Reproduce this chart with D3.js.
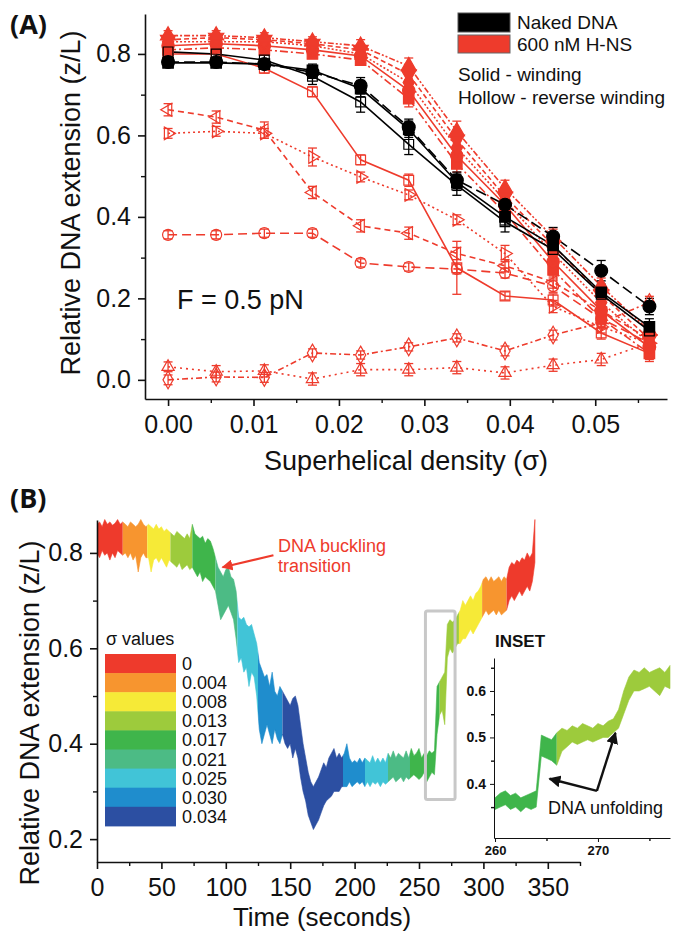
<!DOCTYPE html>
<html>
<head>
<meta charset="utf-8">
<script src="https://cdn.jsdelivr.net/npm/d3@7"></script>
<style>
  body { margin: 0; background: #fff; }
  svg text { font-family: "Liberation Sans", Arial, sans-serif; }
</style>
</head>
<body>
<svg id="fig" width="678" height="933"></svg>
<script>
// ---------- panel A data ----------
var sigmaA = [0, 0.00563, 0.01127, 0.0169, 0.02254, 0.02817, 0.0338, 0.03944, 0.04507, 0.0507, 0.05634];

var nakedWindCircle    = [0.78, 0.78, 0.775, 0.755, 0.722, 0.62, 0.49, 0.43, 0.352, 0.268, 0.18];
var nakedWindCircleErr = [0.012, 0.01, 0.012, 0.015, 0.02, 0.02, 0.02, 0.025, 0.022, 0.025, 0.02];
var nakedWindSquare    = [0.778, 0.778, 0.775, 0.76, 0.715, 0.615, 0.485, 0.40, 0.33, 0.215, 0.13];
var nakedWindSquareErr = [0.01, 0.01, 0.01, 0.015, 0.02, 0.02, 0.02, 0.02, 0.02, 0.02, 0.02];
var nakedRevSquare     = [0.805, 0.80, 0.785, 0.745, 0.682, 0.578, 0.478, 0.388, 0.32, 0.21, 0.12];
var nakedRevSquareErr  = [0.01, 0.01, 0.012, 0.02, 0.025, 0.025, 0.025, 0.025, 0.02, 0.02, 0.02];

var hnsUpTri       = [0.845, 0.845, 0.84, 0.83, 0.82, 0.77, 0.61, 0.47, 0.35, 0.23, 0.12];
var hnsUpTriErr    = [0.012, 0.012, 0.012, 0.012, 0.015, 0.02, 0.025, 0.02, 0.02, 0.02, 0.02];
var hnsDownTri     = [0.835, 0.84, 0.835, 0.825, 0.81, 0.75, 0.59, 0.45, 0.33, 0.21, 0.10];
var hnsDownTriErr  = [0.01, 0.01, 0.01, 0.012, 0.012, 0.02, 0.02, 0.02, 0.02, 0.02, 0.02];
var hnsDiamond     = [0.83, 0.83, 0.83, 0.82, 0.80, 0.73, 0.57, 0.44, 0.31, 0.19, 0.09];
var hnsDiamondErr  = [0.01, 0.01, 0.01, 0.01, 0.012, 0.02, 0.02, 0.02, 0.02, 0.02, 0.02];
var hnsCircle      = [0.82, 0.825, 0.82, 0.81, 0.795, 0.71, 0.55, 0.43, 0.29, 0.17, 0.08];
var hnsCircleErr   = [0.01, 0.01, 0.01, 0.01, 0.012, 0.02, 0.02, 0.02, 0.02, 0.02, 0.02];
var hnsSquare      = [0.81, 0.815, 0.81, 0.80, 0.785, 0.69, 0.53, 0.41, 0.27, 0.15, 0.065];
var hnsSquareErr   = [0.01, 0.01, 0.01, 0.01, 0.012, 0.02, 0.02, 0.02, 0.02, 0.02, 0.02];

var hnsRevSquare      = [0.80, 0.80, 0.765, 0.707, 0.54, 0.49, 0.275, 0.206, 0.196, 0.115, 0.065];
var hnsRevSquareErr   = [0.01, 0.01, 0.012, 0.012, 0.012, 0.015, 0.065, 0.01, 0.015, 0.015, 0.015];
var hnsRevLeftTri     = [0.663, 0.645, 0.613, 0.46, 0.378, 0.36, 0.31, 0.28, 0.24, 0.17, 0.10];
var hnsRevLeftTriErr  = [0.015, 0.015, 0.02, 0.015, 0.015, 0.015, 0.015, 0.015, 0.015, 0.015, 0.015];
var hnsRevRightTri    = [0.605, 0.61, 0.605, 0.547, 0.498, 0.454, 0.393, 0.31, 0.18, 0.13, 0.09];
var hnsRevRightTriErr = [0.012, 0.012, 0.012, 0.022, 0.012, 0.012, 0.012, 0.02, 0.015, 0.015, 0.015];
var hnsRevCircle      = [0.356, 0.356, 0.36, 0.36, 0.287, 0.277, 0.272, 0.262, 0.23, 0.15, 0.09];
var hnsRevCircleErr   = [0.01, 0.01, 0.01, 0.01, 0.01, 0.01, 0.012, 0.012, 0.015, 0.015, 0.015];
var hnsRevDiamond     = [0.0, 0.007, 0.006, 0.066, 0.061, 0.081, 0.103, 0.071, 0.11, 0.14, 0.19];
var hnsRevDiamondErr  = [0.012, 0.012, 0.012, 0.01, 0.01, 0.01, 0.01, 0.012, 0.012, 0.012, 0.015];
var hnsRevUpTri       = [0.032, 0.02, 0.022, 0.002, 0.025, 0.025, 0.03, 0.017, 0.036, 0.05, 0.09];
var hnsRevUpTriErr    = [0.012, 0.015, 0.015, 0.015, 0.015, 0.015, 0.015, 0.015, 0.015, 0.015, 0.015];

var xTicksA = [0, 0.01, 0.02, 0.03, 0.04, 0.05];
var yTicksA = [0, 0.2, 0.4, 0.6, 0.8];

// ---------- panel B data ----------
var sigmaLabels = ["0", "0.004", "0.008", "0.013", "0.017", "0.021", "0.025", "0.030", "0.034"];
var sigmaColors = ["#ee3a2c", "#f7952f", "#f6ea37", "#9dcb3c", "#3fb54b", "#4cbb85", "#41c4d7", "#1f8dcd", "#2c4fa2"];

// time-trace envelope, one sample every 2 s from 0 to 340 s
var traceTime = d3.range(0, 341, 2);
var traceHi = [
  .86,.865,.855,.87,.86,.865,.858,.862,.87,.86,
  .865,.86,.855,.865,.86,.855,.86,.87,.86,.855,
  .86,.855,.85,.86,.85,.855,.845,.85,.845,.84,
  .835,.845,.84,.835,.83,.84,.83,.86,.84,.835,
  .83,.835,.82,.83,.825,.81,.79,.77,.76,.75,
  .765,.77,.75,.745,.72,.665,.66,.665,.65,.645,
  .65,.63,.61,.57,.555,.54,.545,.52,.55,.51,
  .50,.52,.51,.50,.49,.48,.495,.50,.48,.44,
  .40,.37,.34,.32,.31,.32,.33,.345,.36,.35,
  .37,.38,.39,.37,.38,.37,.38,.40,.37,.36,
  .365,.36,.37,.36,.37,.365,.36,.375,.36,.37,
  .36,.37,.36,.38,.37,.385,.37,.38,.375,.37,
  .385,.37,.39,.375,.38,.39,.37,.38,.375,.385,
  .38,.385,.52,.53,.54,.55,.65,.66,.655,.66,
  .67,.68,.70,.69,.70,.71,.70,.715,.72,.73,
  .745,.75,.74,.75,.74,.745,.75,.74,.75,.745,
  .77,.78,.775,.785,.78,.79,.785,.80,.79,.80,
  .87];
var traceLo = [
  .80,.79,.805,.795,.80,.785,.80,.79,.805,.80,
  .795,.80,.79,.80,.785,.795,.76,.79,.80,.79,
  .79,.76,.785,.79,.78,.79,.78,.77,.785,.78,
  .775,.77,.78,.765,.77,.775,.765,.77,.76,.75,
  .76,.74,.75,.745,.74,.73,.72,.69,.66,.67,
  .68,.69,.675,.66,.62,.57,.58,.55,.56,.52,
  .55,.54,.50,.43,.40,.42,.44,.42,.40,.43,
  .41,.40,.42,.40,.39,.40,.37,.39,.37,.33,
  .30,.28,.25,.235,.22,.23,.24,.255,.27,.28,
  .285,.29,.30,.30,.30,.31,.31,.31,.32,.31,
  .315,.32,.315,.32,.31,.32,.31,.32,.315,.32,
  .31,.32,.315,.32,.325,.33,.32,.325,.33,.32,
  .33,.325,.33,.335,.33,.325,.33,.34,.32,.33,
  .34,.335,.42,.46,.47,.44,.58,.60,.59,.60,
  .61,.61,.62,.62,.63,.64,.63,.64,.65,.66,
  .67,.68,.67,.675,.68,.67,.68,.67,.675,.68,
  .70,.71,.70,.71,.72,.71,.72,.73,.72,.74,
  .78];
// colour segments of the trace (seconds) and their sigma index
var segStart = [0, 20, 39, 57, 74, 92, 109, 125, 144, 191, 208, 226, 243, 266, 281, 299, 318];
var segEnd   = [20, 39, 57, 74, 92, 109, 125, 144, 191, 208, 226, 243, 266, 281, 299, 318, 342];
var segSigma = [0, 1, 2, 3, 4, 5, 6, 7, 8, 7, 6, 5, 4, 3, 2, 1, 0];

// inset envelope, one sample every 0.5 s from 260 to 277 s
var insetTime = d3.range(260, 277.01, 0.5);
var insetHi = [.37,.38,.385,.375,.38,.37,.375,.38,.385,.505,.50,.495,.51,.52,.515,.525,.52,.53,
  .525,.52,.53,.525,.535,.54,.56,.60,.63,.645,.64,.65,.64,.645,.65,.64,.655];
var insetLo = [.345,.35,.355,.345,.35,.34,.35,.345,.35,.46,.455,.45,.44,.47,.48,.49,.485,.49,
  .495,.49,.495,.50,.50,.51,.52,.55,.58,.60,.60,.605,.61,.60,.59,.61,.605];
var insetSegStart = [259.9, 266];
var insetSegEnd = [266, 277.1];
var insetSegColor = ["#3fb54b", "#9dcb3c"];

var xTicksB = [0, 50, 100, 150, 200, 250, 300, 350];
var yTicksB = [0.2, 0.4, 0.6, 0.8];

// ---------- drawing ----------
var red = "#ee3b2c";
var svg = d3.select("#fig");
var defs = svg.append("defs");

function styleAxis(g, fs, bold) {
  g.attr("font-family", null).attr("font-size", null);
  g.select(".domain").attr("stroke", "#111").attr("stroke-width", 1.6);
  g.selectAll(".tick line").attr("stroke", "#111").attr("stroke-width", 1.6);
  g.selectAll(".tick text").attr("fill", "#111")
    .style("font-size", fs + "px")
    .style("font-weight", bold ? "bold" : "normal");
}
function minorAxis(g) {
  g.select(".domain").remove();
  g.selectAll(".tick line").attr("stroke", "#111").attr("stroke-width", 1.4);
  g.selectAll(".tick text").remove();
}

// ===== Panel A =====
var xA = d3.scaleLinear().domain([-0.0027, 0.0584]).range([145, 667]);
var yA = d3.scaleLinear().domain([-0.047, 0.898]).range([399, 14]);

var gxA = svg.append("g").attr("transform", "translate(0,399)")
  .call(d3.axisBottom(xA).tickValues(xTicksA).tickFormat(d3.format(".2f")).tickSizeInner(7).tickSizeOuter(0).tickPadding(9));
styleAxis(gxA, 25);
minorAxis(svg.append("g").attr("transform", "translate(0,399)")
  .call(d3.axisBottom(xA).tickValues([0.005, 0.015, 0.025, 0.035, 0.045, 0.055]).tickSize(4)));
var gyA = svg.append("g").attr("transform", "translate(145,0)")
  .call(d3.axisLeft(yA).tickValues(yTicksA).tickFormat(d3.format(".1f")).tickSizeInner(7).tickSizeOuter(0).tickPadding(7));
styleAxis(gyA, 25);
minorAxis(svg.append("g").attr("transform", "translate(145,0)")
  .call(d3.axisLeft(yA).tickValues([0.1, 0.3, 0.5, 0.7]).tickSize(4)));

svg.append("text").attr("x", 406).attr("y", 470).attr("text-anchor", "middle")
  .style("font-size", "27px").attr("fill", "#111").text("Superhelical density (σ)");
svg.append("text").attr("transform", "translate(80,203) rotate(-90)").attr("text-anchor", "middle")
  .style("font-size", "27px").attr("fill", "#111").text("Relative DNA extension (z/L)");

var seriesA = [
  { v: hnsRevUpTri,     e: hnsRevUpTriErr,     c: red, sym: d3.symbolTriangle, rot: 0,   size: 65,  fill: false, dash: "2,4",  grp: 1 },
  { v: hnsRevDiamond,   e: hnsRevDiamondErr,   c: red, sym: d3.symbolDiamond,  rot: 0,   size: 90,  fill: false, dash: "6,3,2,3", grp: 1 },
  { v: hnsRevCircle,    e: hnsRevCircleErr,    c: red, sym: d3.symbolCircle,   rot: 0,   size: 95,  fill: false, dash: "9,5",  grp: 1 },
  { v: hnsRevRightTri,  e: hnsRevRightTriErr,  c: red, sym: d3.symbolTriangle, rot: 90,  size: 70,  fill: false, dash: "2,3",  grp: 1 },
  { v: hnsRevLeftTri,   e: hnsRevLeftTriErr,   c: red, sym: d3.symbolTriangle, rot: -90, size: 70,  fill: false, dash: "6,4",  grp: 1 },
  { v: hnsRevSquare,    e: hnsRevSquareErr,    c: red, sym: d3.symbolSquare,   rot: 0,   size: 95,  fill: false, dash: null,   grp: 1 },
  { v: hnsSquare,       e: hnsSquareErr,       c: red, sym: d3.symbolSquare,   rot: 0,   size: 110, fill: true,  dash: "8,3,2,3", grp: 2 },
  { v: hnsCircle,       e: hnsCircleErr,       c: red, sym: d3.symbolCircle,   rot: 0,   size: 120, fill: true,  dash: null,   grp: 2 },
  { v: hnsDiamond,      e: hnsDiamondErr,      c: red, sym: d3.symbolDiamond,  rot: 0,   size: 110, fill: true,  dash: "2,2",  grp: 2 },
  { v: hnsDownTri,      e: hnsDownTriErr,      c: red, sym: d3.symbolTriangle, rot: 180, size: 100, fill: true,  dash: "5,3",  grp: 2 },
  { v: hnsUpTri,        e: hnsUpTriErr,        c: red, sym: d3.symbolTriangle, rot: 0,   size: 100, fill: true,  dash: "6,2,2,2,2,2", grp: 2 },
  { v: nakedRevSquare,  e: nakedRevSquareErr,  c: "#000", sym: d3.symbolSquare, rot: 0,  size: 95,  fill: false, dash: null,   grp: 3 },
  { v: nakedWindSquare, e: nakedWindSquareErr, c: "#000", sym: d3.symbolSquare, rot: 0,  size: 110, fill: true,  dash: null,   grp: 3 },
  { v: nakedWindCircle, e: nakedWindCircleErr, c: "#000", sym: d3.symbolCircle, rot: 0,  size: 130, fill: true,  dash: "11,5", grp: 3 }
];
seriesA.forEach(function (s) {
  s.pts = sigmaA.map(function (x, i) { return { x: x, y: s.v[i], e: s.e[i] }; });
});

var lineA = d3.line().x(function (d) { return xA(d.x); }).y(function (d) { return yA(d.y); });
var gLines = svg.append("g"), gErr = svg.append("g"), gMk = svg.append("g");

seriesA.forEach(function (s) {
  gLines.append("path").datum(s.pts).attr("d", lineA)
    .attr("fill", "none").attr("stroke", s.c).attr("stroke-width", 1.6)
    .attr("stroke-dasharray", s.dash);
  var eb = gErr.append("g").attr("stroke", s.c).attr("stroke-width", 1.3)
    .selectAll("g").data(s.pts).enter().append("g");
  eb.append("line").attr("x1", function (d) { return xA(d.x); }).attr("x2", function (d) { return xA(d.x); })
    .attr("y1", function (d) { return yA(d.y - d.e); }).attr("y2", function (d) { return yA(d.y + d.e); });
  [-1, 1].forEach(function (sgn) {
    eb.append("line").attr("x1", function (d) { return xA(d.x) - 4.5; }).attr("x2", function (d) { return xA(d.x) + 4.5; })
      .attr("y1", function (d) { return yA(d.y + sgn * d.e); }).attr("y2", function (d) { return yA(d.y + sgn * d.e); });
  });
});
[1, 2, 3].forEach(function (grp) {
  seriesA.filter(function (s) { return s.grp === grp; }).forEach(function (s) {
    gMk.append("g").selectAll("path").data(s.pts).enter().append("path")
      .attr("transform", function (d) { return "translate(" + xA(d.x) + "," + yA(d.y) + ") rotate(" + s.rot + ")"; })
      .attr("d", d3.symbol().type(s.sym).size(s.size))
      .attr("fill", s.fill ? s.c : "none").attr("stroke", s.c).attr("stroke-width", 1.2);
  });
});

svg.append("text").attr("x", 177).attr("y", 309).style("font-size", "27px").attr("fill", "#111").text("F = 0.5 pN");

// legend A
svg.append("rect").attr("x", 458).attr("y", 13).attr("width", 52).attr("height", 19).attr("fill", "#000").attr("stroke", "#555");
svg.append("rect").attr("x", 458).attr("y", 35).attr("width", 52).attr("height", 18).attr("fill", red).attr("stroke", "#666");
svg.append("text").attr("x", 517).attr("y", 29).style("font-size", "19px").attr("fill", "#111").text("Naked DNA");
svg.append("text").attr("x", 517).attr("y", 51).style("font-size", "19px").attr("fill", "#111").text("600 nM H-NS");
svg.append("text").attr("x", 458).attr("y", 81).style("font-size", "19px").attr("fill", "#111").text("Solid - winding");
svg.append("text").attr("x", 458).attr("y", 104).style("font-size", "19px").attr("fill", "#111").text("Hollow - reverse winding");

svg.append("text").attr("x", 10).attr("y", 34).style("font-family", "'Open Sans', sans-serif")
  .style("font-size", "27px").style("font-weight", "bold").attr("fill", "#111").text("(A)");
svg.append("text").attr("x", 10).attr("y", 508).style("font-family", "'Open Sans', sans-serif")
  .style("font-size", "27px").style("font-weight", "bold").attr("fill", "#111").text("(B)");

// ===== Panel B =====
var xB = d3.scaleLinear().domain([0, 375]).range([97, 580]);
var yB = d3.scaleLinear().domain([0.152, 0.869]).range([862, 520]);

var traceData = traceTime.map(function (t, i) { return { t: t, hi: traceHi[i], lo: traceLo[i] }; });
var areaB = d3.area().x(function (d) { return xB(d.t); })
  .y0(function (d) { return yB(d.lo); }).y1(function (d) { return yB(d.hi); });
segStart.forEach(function (a, i) {
  var id = "segclip" + i;
  defs.append("clipPath").attr("id", id).append("rect")
    .attr("x", xB(a)).attr("width", xB(segEnd[i]) - xB(a)).attr("y", 500).attr("height", 380);
  svg.append("path").datum(traceData).attr("d", areaB)
    .attr("fill", sigmaColors[segSigma[i]]).attr("stroke", sigmaColors[segSigma[i]]).attr("stroke-width", 0.6)
    .attr("clip-path", "url(#" + id + ")");
});

var gxB = svg.append("g").attr("transform", "translate(0,862)")
  .call(d3.axisBottom(xB).tickValues(xTicksB).tickSizeInner(7).tickSizeOuter(0).tickPadding(9));
styleAxis(gxB, 25);
minorAxis(svg.append("g").attr("transform", "translate(0,862)")
  .call(d3.axisBottom(xB).tickValues([25, 75, 125, 175, 225, 275, 325, 375]).tickSize(4)));
var gyB = svg.append("g").attr("transform", "translate(97,0)")
  .call(d3.axisLeft(yB).tickValues(yTicksB).tickFormat(d3.format(".1f")).tickSizeInner(7).tickSizeOuter(0).tickPadding(7));
styleAxis(gyB, 25);
minorAxis(svg.append("g").attr("transform", "translate(97,0)")
  .call(d3.axisLeft(yB).tickValues([0.3, 0.5, 0.7]).tickSize(4)));

svg.append("text").attr("x", 322).attr("y", 926).attr("text-anchor", "middle")
  .style("font-size", "26px").attr("fill", "#111").text("Time (seconds)");
svg.append("text").attr("transform", "translate(39,713) rotate(-90)").attr("text-anchor", "middle")
  .style("font-size", "27px").attr("fill", "#111").text("Relative DNA extension (z/L)");

// sigma legend
svg.append("text").attr("x", 106).attr("y", 645).style("font-size", "18px").attr("fill", "#111").text("σ  values");
var legB = svg.append("g").selectAll("g").data(sigmaLabels).enter().append("g");
legB.append("rect").attr("x", 105).attr("y", function (d, i) { return 654 + i * 19.1; })
  .attr("width", 71).attr("height", 19.6).attr("fill", function (d, i) { return sigmaColors[i]; });
legB.append("text").attr("x", 182).attr("y", function (d, i) { return 654 + i * 19.1 + 16; })
  .style("font-size", "18px").attr("fill", "#111").text(function (d) { return d; });

// buckling annotation
defs.append("marker").attr("id", "headRed").attr("viewBox", "0 0 10 10").attr("refX", 9).attr("refY", 5)
  .attr("markerWidth", 5).attr("markerHeight", 5).attr("orient", "auto")
  .append("path").attr("d", "M0,0L10,5L0,10z").attr("fill", red);
svg.append("line").attr("x1", xB(137)).attr("y1", yB(0.795)).attr("x2", xB(97.5)).attr("y2", yB(0.77))
  .attr("stroke", red).attr("stroke-width", 2.2).attr("marker-end", "url(#headRed)");
svg.append("text").attr("x", 278).attr("y", 552).style("font-size", "18px").attr("fill", red).text("DNA buckling");
svg.append("text").attr("x", 278).attr("y", 572).style("font-size", "18px").attr("fill", red).text("transition");

// grey box marking inset region
svg.append("rect").attr("x", xB(255)).attr("y", yB(0.678)).attr("width", xB(278) - xB(255))
  .attr("height", yB(0.283) - yB(0.678)).attr("rx", 2).attr("fill", "none")
  .attr("stroke", "#c8c8c8").attr("stroke-width", 3);

// ===== Inset =====
var xI = d3.scaleLinear().domain([259.9, 277]).range([494, 670]);
var yI = d3.scaleLinear().domain([0.2835, 0.671]).range([838, 658]);
var insetData = insetTime.map(function (t, i) { return { t: t, hi: insetHi[i], lo: insetLo[i] }; });
var areaI = d3.area().x(function (d) { return xI(d.t); })
  .y0(function (d) { return yI(d.lo); }).y1(function (d) { return yI(d.hi); });
insetSegStart.forEach(function (a, i) {
  var id = "insclip" + i;
  defs.append("clipPath").attr("id", id).append("rect")
    .attr("x", xI(a)).attr("width", xI(insetSegEnd[i]) - xI(a)).attr("y", 640).attr("height", 200);
  svg.append("path").datum(insetData).attr("d", areaI)
    .attr("fill", insetSegColor[i]).attr("stroke", insetSegColor[i]).attr("stroke-width", 0.6)
    .attr("clip-path", "url(#" + id + ")");
});
var gxI = svg.append("g").attr("transform", "translate(0,838)")
  .call(d3.axisBottom(xI).tickValues([260, 270]).tickSizeInner(4).tickSizeOuter(0).tickPadding(4));
styleAxis(gxI, 13, true);
gxI.selectAll(".domain, .tick line").attr("stroke-width", 1);
minorAxis(svg.append("g").attr("transform", "translate(0,838)")
  .call(d3.axisBottom(xI).tickValues([265, 275]).tickSize(3)));
var gyI = svg.append("g").attr("transform", "translate(494,0)")
  .call(d3.axisLeft(yI).tickValues([0.4, 0.5, 0.6]).tickFormat(d3.format(".1f")).tickSizeInner(4).tickSizeOuter(0).tickPadding(4));
styleAxis(gyI, 14, true);
gyI.selectAll(".domain, .tick line").attr("stroke-width", 1);
minorAxis(svg.append("g").attr("transform", "translate(494,0)")
  .call(d3.axisLeft(yI).tickValues([0.35, 0.45, 0.55, 0.65]).tickSize(3)));

svg.append("text").attr("x", 495).attr("y", 647).style("font-size", "17px").style("font-weight", "bold")
  .attr("fill", "#111").text("INSET");

defs.append("marker").attr("id", "headBlack").attr("viewBox", "0 0 10 10").attr("refX", 9).attr("refY", 5)
  .attr("markerWidth", 5).attr("markerHeight", 5).attr("orient", "auto")
  .append("path").attr("d", "M0,0L10,5L0,10z").attr("fill", "#111");
svg.append("line").attr("x1", xI(269.9)).attr("y1", yI(0.385)).attr("x2", xI(265.3)).attr("y2", yI(0.411))
  .attr("stroke", "#111").attr("stroke-width", 2.4).attr("marker-end", "url(#headBlack)");
svg.append("line").attr("x1", xI(269.9)).attr("y1", yI(0.385)).attr("x2", xI(271.7)).attr("y2", yI(0.51))
  .attr("stroke", "#111").attr("stroke-width", 2.4).attr("marker-end", "url(#headBlack)");
svg.append("text").attr("x", 548).attr("y", 814).style("font-size", "18px").attr("fill", "#111").text("DNA unfolding");
</script>
</body>
</html>
